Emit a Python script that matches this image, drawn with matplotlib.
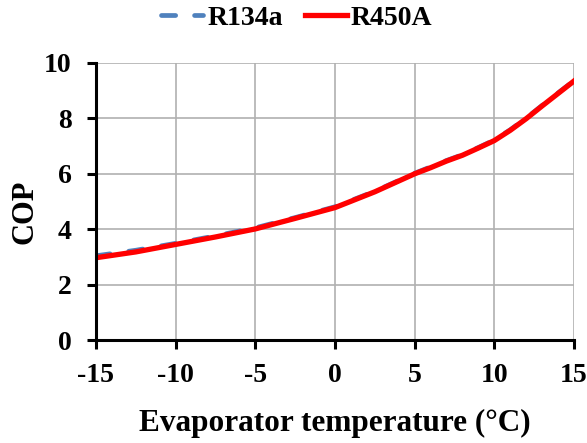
import numpy as np
import matplotlib
matplotlib.use('Agg')
import matplotlib.pyplot as plt

plt.rcParams['font.family'] = ['Liberation Serif', 'DejaVu Serif']
plt.rcParams['font.weight'] = 'bold'
plt.rcParams['axes.unicode_minus'] = False

# datos
temp = [-15, -12.5, -10, -7.5, -5, -2.5, 0, 2.5, 5, 6, 7, 8, 9, 10, 11, 12, 13, 14, 15]
cop_r134a = [3.04, 3.24, 3.49, 3.76, 4.05, 4.42, 4.81, 5.37, 6.02, 6.25, 6.48, 6.69,
             6.95, 7.22, 7.59, 8.01, 8.47, 8.92, 9.36]
cop_r450a = [2.97, 3.18, 3.45, 3.72, 4.01, 4.39, 4.78, 5.35, 6.0, 6.22, 6.46, 6.67,
             6.93, 7.2, 7.57, 7.99, 8.45, 8.9, 9.35]

fig = plt.figure(figsize=(5.87, 4.43), dpi=100)
ax = fig.add_axes([96/587, 1-340/443, (574-96)/587, (340-63)/443])

ax.plot(temp, cop_r134a, color='#4F81BD', linewidth=3.4, linestyle=(0, (3, 4)),
        dash_capstyle='round', label='R134a')
ax.plot(temp, cop_r450a, color='#FF0000', linewidth=3.8, label='R450A')

ax.set_xlim(-15, 15)
ax.set_ylim(0, 10)
ax.set_xticks(np.arange(-15, 16, 5))
ax.set_yticks(np.arange(0, 11, 2))
ax.grid(True, color='#B0B0B0', linewidth=1.2)
ax.set_axisbelow(True)

for s in ['top', 'right']:
    ax.spines[s].set_visible(False)
for s in ['left', 'bottom']:
    ax.spines[s].set_linewidth(2.2)
    ax.spines[s].set_color('black')

ax.tick_params(direction='out', length=6.5, width=2.2, labelsize=20)
ax.tick_params(axis='y', pad=11)
ax.tick_params(axis='x', pad=10)
for lab in ax.get_xticklabels() + ax.get_yticklabels():
    lab.set_fontweight('bold')

ax.set_xlabel('Evaporator temperature (°C)', fontsize=22.5, fontweight='bold', labelpad=15)
fig.text(25/587, 1-212/443, 'COP', rotation=90, fontsize=22, fontweight='bold',
         ha='center', va='center')

fig.legend(loc='center', bbox_to_anchor=(297/587, 1-18/443), ncol=2, frameon=False,
           prop={'size': 20, 'weight': 'bold'}, handlelength=1.5, columnspacing=0.8,
           handletextpad=0.15, borderpad=0)

fig.savefig('out.png', dpi=100)
